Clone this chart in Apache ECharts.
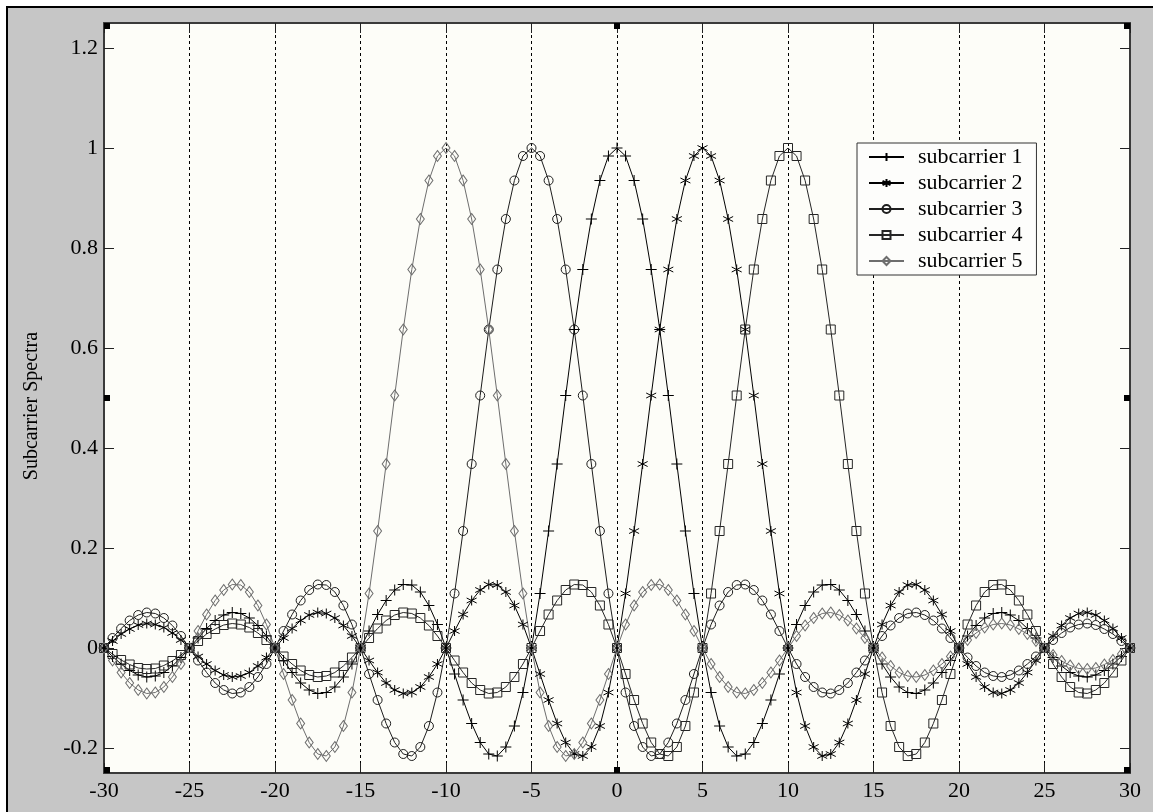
<!DOCTYPE html>
<html>
<head>
<meta charset="utf-8">
<title>Subcarrier Spectra</title>
<script src="https://cdn.jsdelivr.net/npm/echarts@6/dist/echarts.min.js"></script>
<style>
  html, body { margin: 0; padding: 0; background: #ffffff; }
  #chart { width: 1153px; height: 812px; }
</style>
</head>
<body>
<div id="chart"></div>
<script>
// Frequency axis samples (step 0.5)
const freq = [
  -30, -29.5, -29, -28.5, -28, -27.5, -27, -26.5, -26, -25.5,
  -25, -24.5, -24, -23.5, -23, -22.5, -22, -21.5, -21, -20.5,
  -20, -19.5, -19, -18.5, -18, -17.5, -17, -16.5, -16, -15.5,
  -15, -14.5, -14, -13.5, -13, -12.5, -12, -11.5, -11, -10.5,
  -10, -9.5, -9, -8.5, -8, -7.5, -7, -6.5, -6, -5.5,
  -5, -4.5, -4, -3.5, -3, -2.5, -2, -1.5, -1, -0.5,
  0, 0.5, 1, 1.5, 2, 2.5, 3, 3.5, 4, 4.5,
  5, 5.5, 6, 6.5, 7, 7.5, 8, 8.5, 9, 9.5,
  10, 10.5, 11, 11.5, 12, 12.5, 13, 13.5, 14, 14.5,
  15, 15.5, 16, 16.5, 17, 17.5, 18, 18.5, 19, 19.5,
  20, 20.5, 21, 21.5, 22, 22.5, 23, 23.5, 24, 24.5,
  25, 25.5, 26, 26.5, 27, 27.5, 28, 28.5, 29, 29.5,
  30
];

// subcarrier 1, centred at 0
const sub1 = [
  0, -0.017, -0.032, -0.045, -0.054, -0.058, -0.056, -0.049, -0.036, -0.019,
  0, 0.020, 0.039, 0.055, 0.066, 0.071, 0.069, 0.060, 0.045, 0.024,
  0, -0.025, -0.049, -0.070, -0.084, -0.091, -0.089, -0.078, -0.058, -0.032,
  0, 0.034, 0.067, 0.095, 0.116, 0.127, 0.126, 0.112, 0.085, 0.047,
  0, -0.052, -0.104, -0.151, -0.189, -0.212, -0.216, -0.198, -0.156, -0.089,
  0, 0.109, 0.234, 0.368, 0.505, 0.637, 0.757, 0.858, 0.935, 0.984,
  1, 0.984, 0.935, 0.858, 0.757, 0.637, 0.505, 0.368, 0.234, 0.109,
  0, -0.089, -0.156, -0.198, -0.216, -0.212, -0.189, -0.151, -0.104, -0.052,
  0, 0.047, 0.085, 0.112, 0.126, 0.127, 0.116, 0.095, 0.067, 0.034,
  0, -0.032, -0.058, -0.078, -0.089, -0.091, -0.084, -0.070, -0.049, -0.025,
  0, 0.024, 0.045, 0.060, 0.069, 0.071, 0.066, 0.055, 0.039, 0.020,
  0, -0.019, -0.036, -0.049, -0.056, -0.058, -0.054, -0.045, -0.032, -0.017,
  0
];

// subcarrier 2, centred at 5
const sub2 = [
  0, 0.014, 0.028, 0.038, 0.046, 0.049, 0.047, 0.041, 0.030, 0.016,
  0, -0.017, -0.032, -0.045, -0.054, -0.058, -0.056, -0.049, -0.036, -0.019,
  0, 0.020, 0.039, 0.055, 0.066, 0.071, 0.069, 0.060, 0.045, 0.024,
  0, -0.025, -0.049, -0.070, -0.084, -0.091, -0.089, -0.078, -0.058, -0.032,
  0, 0.034, 0.067, 0.095, 0.116, 0.127, 0.126, 0.112, 0.085, 0.047,
  0, -0.052, -0.104, -0.151, -0.189, -0.212, -0.216, -0.198, -0.156, -0.089,
  0, 0.109, 0.234, 0.368, 0.505, 0.637, 0.757, 0.858, 0.935, 0.984,
  1, 0.984, 0.935, 0.858, 0.757, 0.637, 0.505, 0.368, 0.234, 0.109,
  0, -0.089, -0.156, -0.198, -0.216, -0.212, -0.189, -0.151, -0.104, -0.052,
  0, 0.047, 0.085, 0.112, 0.126, 0.127, 0.116, 0.095, 0.067, 0.034,
  0, -0.032, -0.058, -0.078, -0.089, -0.091, -0.084, -0.070, -0.049, -0.025,
  0, 0.024, 0.045, 0.060, 0.069, 0.071, 0.066, 0.055, 0.039, 0.020,
  0
];

// subcarrier 3, centred at -5
const sub3 = [
  0, 0.020, 0.039, 0.055, 0.066, 0.071, 0.069, 0.060, 0.045, 0.024,
  0, -0.025, -0.049, -0.070, -0.084, -0.091, -0.089, -0.078, -0.058, -0.032,
  0, 0.034, 0.067, 0.095, 0.116, 0.127, 0.126, 0.112, 0.085, 0.047,
  0, -0.052, -0.104, -0.151, -0.189, -0.212, -0.216, -0.198, -0.156, -0.089,
  0, 0.109, 0.234, 0.368, 0.505, 0.637, 0.757, 0.858, 0.935, 0.984,
  1, 0.984, 0.935, 0.858, 0.757, 0.637, 0.505, 0.368, 0.234, 0.109,
  0, -0.089, -0.156, -0.198, -0.216, -0.212, -0.189, -0.151, -0.104, -0.052,
  0, 0.047, 0.085, 0.112, 0.126, 0.127, 0.116, 0.095, 0.067, 0.034,
  0, -0.032, -0.058, -0.078, -0.089, -0.091, -0.084, -0.070, -0.049, -0.025,
  0, 0.024, 0.045, 0.060, 0.069, 0.071, 0.066, 0.055, 0.039, 0.020,
  0, -0.019, -0.036, -0.049, -0.056, -0.058, -0.054, -0.045, -0.032, -0.017,
  0, 0.016, 0.030, 0.041, 0.047, 0.049, 0.046, 0.038, 0.028, 0.014,
  0
];

// subcarrier 4, centred at 10
const sub4 = [
  0, -0.012, -0.024, -0.033, -0.040, -0.042, -0.041, -0.035, -0.026, -0.014,
  0, 0.014, 0.028, 0.038, 0.046, 0.049, 0.047, 0.041, 0.030, 0.016,
  0, -0.017, -0.032, -0.045, -0.054, -0.058, -0.056, -0.049, -0.036, -0.019,
  0, 0.020, 0.039, 0.055, 0.066, 0.071, 0.069, 0.060, 0.045, 0.024,
  0, -0.025, -0.049, -0.070, -0.084, -0.091, -0.089, -0.078, -0.058, -0.032,
  0, 0.034, 0.067, 0.095, 0.116, 0.127, 0.126, 0.112, 0.085, 0.047,
  0, -0.052, -0.104, -0.151, -0.189, -0.212, -0.216, -0.198, -0.156, -0.089,
  0, 0.109, 0.234, 0.368, 0.505, 0.637, 0.757, 0.858, 0.935, 0.984,
  1, 0.984, 0.935, 0.858, 0.757, 0.637, 0.505, 0.368, 0.234, 0.109,
  0, -0.089, -0.156, -0.198, -0.216, -0.212, -0.189, -0.151, -0.104, -0.052,
  0, 0.047, 0.085, 0.112, 0.126, 0.127, 0.116, 0.095, 0.067, 0.034,
  0, -0.032, -0.058, -0.078, -0.089, -0.091, -0.084, -0.070, -0.049, -0.025,
  0
];

// subcarrier 5, centred at -10
const sub5 = [
  0, -0.025, -0.049, -0.070, -0.084, -0.091, -0.089, -0.078, -0.058, -0.032,
  0, 0.034, 0.067, 0.095, 0.116, 0.127, 0.126, 0.112, 0.085, 0.047,
  0, -0.052, -0.104, -0.151, -0.189, -0.212, -0.216, -0.198, -0.156, -0.089,
  0, 0.109, 0.234, 0.368, 0.505, 0.637, 0.757, 0.858, 0.935, 0.984,
  1, 0.984, 0.935, 0.858, 0.757, 0.637, 0.505, 0.368, 0.234, 0.109,
  0, -0.089, -0.156, -0.198, -0.216, -0.212, -0.189, -0.151, -0.104, -0.052,
  0, 0.047, 0.085, 0.112, 0.126, 0.127, 0.116, 0.095, 0.067, 0.034,
  0, -0.032, -0.058, -0.078, -0.089, -0.091, -0.084, -0.070, -0.049, -0.025,
  0, 0.024, 0.045, 0.060, 0.069, 0.071, 0.066, 0.055, 0.039, 0.020,
  0, -0.019, -0.036, -0.049, -0.056, -0.058, -0.054, -0.045, -0.032, -0.017,
  0, 0.016, 0.030, 0.041, 0.047, 0.049, 0.046, 0.038, 0.028, 0.014,
  0, -0.014, -0.026, -0.035, -0.041, -0.042, -0.040, -0.033, -0.024, -0.012,
  0
];

const seriesNames = ['subcarrier 1', 'subcarrier 2', 'subcarrier 3', 'subcarrier 4', 'subcarrier 5'];
const yTicks = [-0.2, 0, 0.2, 0.4, 0.6, 0.8, 1, 1.2];

const FONT = '"Liberation Serif", "Times New Roman", serif';

// marker shapes
const PLUS = 'path://M0,5L10,5M5,0L5,10';
const STAR = 'path://M5,0L5,10M0.67,2.5L9.33,7.5M0.67,7.5L9.33,2.5';

const styles = [
  { data: sub1, symbol: PLUS, size: 11, color: '#000000' },
  { data: sub2, symbol: STAR, size: 10, color: '#000000' },
  { data: sub3, symbol: 'circle', size: 9, color: '#1e1e1e' },
  { data: sub4, symbol: 'rect', size: 9, color: '#262626' },
  { data: sub5, symbol: 'diamond', size: [8, 11], color: '#6e6e6e' }
];

const series = styles.map((s, i) => ({
  name: seriesNames[i],
  type: 'line',
  data: freq.map((f, j) => [f, s.data[j]]),
  symbol: s.symbol,
  symbolSize: s.size,
  showSymbol: true,
  lineStyle: { color: s.color, width: 1 },
  itemStyle: { color: 'rgba(0,0,0,0)', borderColor: s.color, borderWidth: 1 },
  emphasis: { disabled: true },
  silent: true,
  z: 3
}));

// plot-area geometry
const G = { left: 104, top: 23, width: 1026, height: 750 };

function handle(x, y) {
  return { type: 'rect', shape: { x: x, y: y, width: 6, height: 6 }, style: { fill: '#000' }, z: 100, silent: true };
}

const frameColor = '#3a3a3a';

const option = {
  animation: false,
  backgroundColor: '#c6c6c6',
  grid: {
    left: G.left, top: G.top, width: G.width, height: G.height,
    show: true, backgroundColor: '#fdfdf8', borderWidth: 0
  },
  legend: {
    orient: 'vertical',
    left: 857, top: 143,
    data: seriesNames,
    itemWidth: 35, itemHeight: 10, itemGap: 4,
    padding: [3, 14, 3, 11],
    backgroundColor: '#fdfdfb',
    borderColor: '#333333', borderWidth: 1, borderRadius: 0,
    selectedMode: false,
    textStyle: { fontFamily: FONT, fontSize: 22, color: '#000', lineHeight: 22, padding: [0, 0, 0, 9] }
  },
  xAxis: [
    {
      type: 'value', position: 'bottom', min: -30, max: 30, interval: 5,
      axisLine: { show: true, onZero: false, lineStyle: { color: frameColor, width: 2 } },
      axisTick: { show: true, inside: true, length: 10, lineStyle: { color: '#222', width: 1 } },
      axisLabel: { show: true, margin: 7, fontFamily: FONT, fontSize: 22, color: '#000' },
      splitLine: { show: true, lineStyle: { color: '#000', width: 1, type: [3, 3] } }
    },
    {
      type: 'value', position: 'top', min: -30, max: 30, interval: 5,
      axisLine: { show: true, onZero: false, lineStyle: { color: frameColor, width: 2 } },
      axisTick: { show: true, inside: true, length: 10, lineStyle: { color: '#222', width: 1 } },
      axisLabel: { show: false },
      splitLine: { show: false }
    }
  ],
  yAxis: [
    {
      type: 'value', position: 'left', min: -0.25, max: 1.25,
      name: 'Subcarrier Spectra', nameLocation: 'middle', nameGap: 62,
      nameTextStyle: { fontFamily: FONT, fontSize: 20, color: '#000', padding: [0, 16, 0, 0] },
      axisLine: { show: true, onZero: false, lineStyle: { color: frameColor, width: 2 } },
      axisTick: { show: true, inside: true, length: 10, customValues: yTicks, lineStyle: { color: '#222', width: 1 } },
      axisLabel: { show: true, margin: 6, customValues: yTicks, fontFamily: FONT, fontSize: 22, color: '#000' },
      splitLine: { show: false }
    },
    {
      type: 'value', position: 'right', min: -0.25, max: 1.25,
      axisLine: { show: true, onZero: false, lineStyle: { color: frameColor, width: 2 } },
      axisTick: { show: true, inside: true, length: 10, customValues: yTicks, lineStyle: { color: '#222', width: 1 } },
      axisLabel: { show: false },
      splitLine: { show: false }
    }
  ],
  graphic: [
    // outer white margin and black edge
    { type: 'rect', shape: { x: 0, y: 0, width: 1153, height: 6 }, style: { fill: '#ffffff' }, z: 100, silent: true },
    { type: 'rect', shape: { x: 0, y: 0, width: 6, height: 812 }, style: { fill: '#ffffff' }, z: 100, silent: true },
    { type: 'rect', shape: { x: 6, y: 6, width: 1147, height: 2 }, style: { fill: '#000000' }, z: 100, silent: true },
    { type: 'rect', shape: { x: 6, y: 6, width: 2, height: 806 }, style: { fill: '#000000' }, z: 100, silent: true },
    // selection handles on the plot frame
    handle(104, 23), handle(614, 23), handle(1124, 23),
    handle(104, 395), handle(1124, 395),
    handle(104, 767), handle(614, 767), handle(1124, 767)
  ],
  series: series
};

const chart = echarts.init(document.getElementById('chart'), null, { renderer: 'canvas' });
chart.setOption(option);
</script>
</body>
</html>
